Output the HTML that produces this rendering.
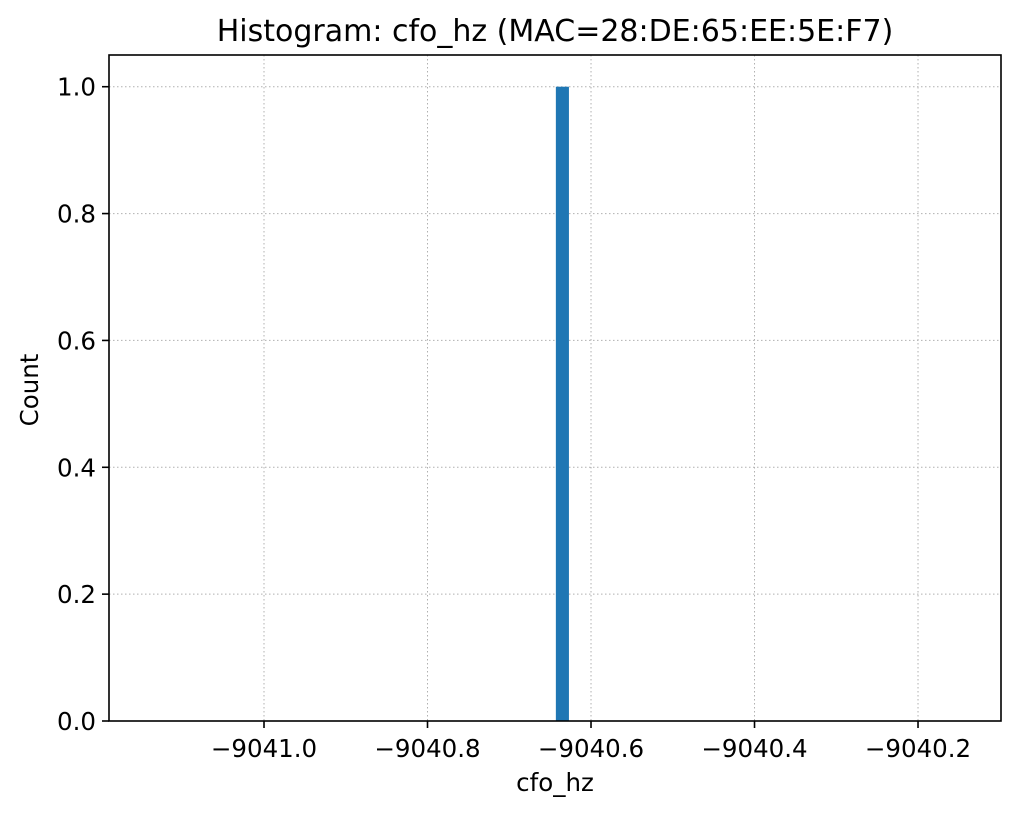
<!DOCTYPE html>
<html><head><meta charset="utf-8"><style>
body{margin:0;background:#fff;font-family:"Liberation Sans","DejaVu Sans",sans-serif}
</style></head><body>
<svg id="c" width="1020" height="815" xmlns="http://www.w3.org/2000/svg" font-family="DejaVu Sans, Liberation Sans, sans-serif">
<rect width="1020" height="815" fill="#fff"/>
<text x="555" y="41" text-anchor="middle" font-size="30">Histogram: cfo_hz (MAC=28:DE:65:EE:5E:F7)</text>
<g id="grid"></g><g id="bars"></g><g id="axes"></g>
<text x="555" y="791" text-anchor="middle" font-size="24.5">cfo_hz</text>
<text transform="translate(38,390) rotate(-90)" text-anchor="middle" font-size="24.5">Count</text>
</svg>
<script>
const binEdges=[-9040.643,-9040.627];
const counts=[1];
const xTicks=[-9041.0,-9040.8,-9040.6,-9040.4,-9040.2];
const yTicks=[0,0.2,0.4,0.6,0.8,1.0];
const L=109,R=1001,T=55,B=721,xmin=-9041.1896,xmax=-9040.0985,ymax=1.05;
const NS="http://www.w3.org/2000/svg";
const X=v=>L+(v-xmin)/(xmax-xmin)*(R-L);
const Y=v=>B-v/ymax*(B-T);
function mk(p,t,a){const e=document.createElementNS(NS,t);for(const k in a)e.setAttribute(k,a[k]);document.getElementById(p).appendChild(e);return e;}
xTicks.forEach(v=>{const x=X(v);
 const g=mk('grid','line',{x1:x,x2:x,y1:T,y2:B,stroke:'#b0b0b0','stroke-width':1,'stroke-dasharray':'1.5,2.5'});
 
 
 const t=mk('axes','line',{x1:x,x2:x,y1:B,y2:B+7,stroke:'#000','stroke-width':1.6});
 
 
 const l=mk('axes','text',{x:x,y:B+36,'text-anchor':'middle','font-size':24.5});
 l.textContent='\u2212'+Math.abs(v).toFixed(1);
 
 
});
yTicks.forEach(v=>{const y=Y(v);
 const g=mk('grid','line',{x1:L,x2:R,y1:y,y2:y,stroke:'#b0b0b0','stroke-width':1,'stroke-dasharray':'1.5,2.5'});
 
 
 const t=mk('axes','line',{x1:L-7,x2:L,y1:y,y2:y,stroke:'#000','stroke-width':1.6});
 
 
 const l=mk('axes','text',{x:L-13,y:y+9,'text-anchor':'end','font-size':24.5});
 l.textContent=v.toFixed(1);
 
 
});
counts.forEach((c,i)=>{
 const b=mk('bars','rect',{x:X(binEdges[i]),y:Y(c),width:X(binEdges[i+1])-X(binEdges[i]),height:B-Y(c),fill:'#1f77b4'});
 
 
});
const f=mk('axes','rect',{x:L,y:T,width:R-L,height:B-T,fill:'none',stroke:'#000','stroke-width':1.6});


</script>
</body></html>
